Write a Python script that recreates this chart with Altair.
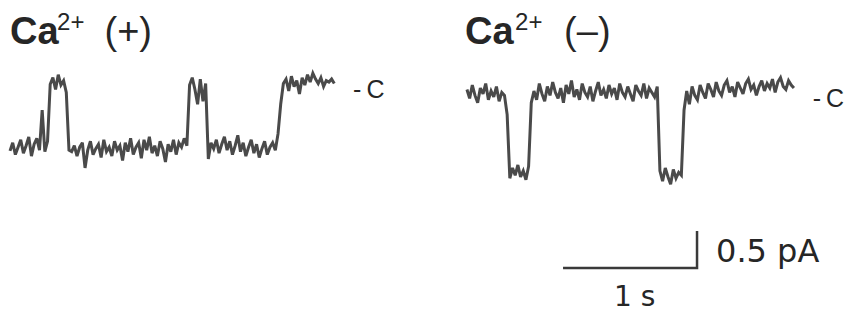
import altair as alt
import pandas as pd

# ---- recorded traces (current in pA, relative to closed level of left trace) ----
DT = 0.02            # sample interval, s
LEFT_T0 = 0.015      # s
RIGHT_T0 = 3.425     # s

left_current = [
    -0.85, -0.74, -0.90, -0.80, -0.70, -0.88, -0.78, -0.66, -0.92, -0.76, -0.68, -0.84,
    -0.30,
    -0.86, -0.72,
    0.05, 0.14, -0.02, 0.18, 0.04, 0.10, -0.06,
    -0.84,
    -0.86, -0.78, -0.92, -0.80, -0.74, -1.08, -0.84, -0.72, -0.90, -0.82, -0.76, -0.94,
    -0.70, -0.86, -0.80, -0.92, -0.72, -0.84, -0.78, -0.98, -0.74, -0.86, -0.68, -0.90,
    -0.80, -0.74, -0.95, -0.70, -0.84, -0.66, -0.88, -0.78, -0.92, -0.72, -0.82, -1.00,
    -0.76, -0.86, -0.70, -0.90, -0.74, -0.80, -0.68, -0.78,
    0.04, 0.14, -0.02, -0.22, 0.12, -0.18, 0.06,
    -0.96, -0.74, -0.82, -0.70, -0.88, -0.76, -0.66, -0.84, -0.72, -0.90, -0.78, -0.64,
    -0.86, -0.74, -0.92, -0.80, -0.70, -0.88, -0.76, -0.94, -0.82, -0.72, -0.90, -0.80,
    -0.74, -0.84,
    -0.62, -0.22,
    0.06, 0.12, -0.04, 0.16, 0.02, 0.10, -0.08, 0.14, 0.04, 0.18, 0.08, 0.20, 0.12, 0.06,
    0.14, 0.02, 0.10, 0.08, 0.12, 0.06,
]

right_current = [
    -0.02, -0.14, 0.04, -0.10, -0.20, 0.00, -0.08, 0.06, -0.16, -0.04, -0.12, 0.02, -0.18,
    -0.06, -0.10,
    -0.36,
    -1.22, -1.08, -1.18, -1.04, -1.20, -1.12, -1.24, -1.06,
    -0.20,
    -0.04, -0.16, 0.06, -0.08, -0.18, 0.02, -0.10, 0.08, -0.06, -0.14, 0.00, -0.20, 0.04,
    -0.08, 0.10, -0.12, -0.02, -0.16, 0.06, -0.06, -0.12, 0.02, -0.18, -0.04, 0.08, -0.10,
    -0.02, -0.14, 0.04, -0.08, 0.00, -0.16, 0.06, -0.06, -0.12, 0.02, -0.08, -0.18, 0.04,
    -0.04, -0.10, 0.06, -0.14, 0.00, -0.06, -0.12, 0.02,
    -1.12, -1.26, -1.08, -1.20, -1.30, -1.10, -1.22, -1.14, -1.18,
    -0.30,
    -0.04, -0.22, 0.02, -0.10, -0.16, 0.04, -0.06, -0.14, 0.06, -0.02, -0.12, 0.08, -0.04,
    -0.10, 0.04, 0.10, -0.06, 0.02, -0.12, 0.08, 0.00, -0.08, 0.06, 0.12, -0.02, 0.04,
    -0.10, 0.02, 0.10, -0.04, 0.06, 0.00, 0.12, -0.06, 0.08, 0.14, 0.02, -0.02, 0.10,
    0.04, 0.00,
]

# ---- scale bar (1 s, 0.5 pA) ----
scalebar_t = [4.142, 5.142, 5.142]
scalebar_i = [-2.432, -2.432, -1.932]

# ---- annotations ----
title_text = ["Ca", "Ca"]
title_t = [0.015, 3.410]
title_i = [0.595, 0.595]

sup_text = ["2+", "2+"]
sup_t = [0.366, 3.784]
sup_i = [0.784, 0.784]

sign_text = ["(+)", "(\u2013)"]
sign_t = [0.72, 4.15]
sign_i = [0.595, 0.595]

closed_text = ["-\u2009C", "-\u2009C"]
closed_t = [2.575, 6.005]
closed_i = [-0.135, -0.257]

bar_text = ["0.5 pA", "1 s"]
bar_t = [5.284, 4.522]
bar_i = [-2.351, -2.946]
bar_size = [32, 28]

X_DOMAIN = [0, 6.2537]
Y_DOMAIN = [-3.0405, 1.0811]

rows = []
for k, v in enumerate(left_current):
    rows.append({"t": LEFT_T0 + k * DT, "i": v, "trace": "Ca(+)"})
for k, v in enumerate(right_current):
    rows.append({"t": RIGHT_T0 + k * DT, "i": v, "trace": "Ca(-)"})
traces = pd.DataFrame(rows)

xs = alt.Scale(domain=X_DOMAIN, nice=False, zero=False)
ys = alt.Scale(domain=Y_DOMAIN, nice=False, zero=False)
X = lambda: alt.X("t:Q", scale=xs, axis=None)
Y = lambda: alt.Y("i:Q", scale=ys, axis=None)

trace_layer = alt.Chart(traces).mark_line(
    color="#4a4a4a", strokeWidth=3, strokeJoin="miter", strokeMiterLimit=3
).encode(x=X(), y=Y(), detail="trace:N", order="t:Q")

sb = pd.DataFrame({"t": scalebar_t, "i": scalebar_i, "o": [0, 1, 2]})
sb_layer = alt.Chart(sb).mark_line(color="#3a3a3a", strokeWidth=2.5).encode(
    x=X(), y=Y(), order="o:Q"
)

def text_layer(texts, ts, iis, **kw):
    df = pd.DataFrame({"label": texts, "t": ts, "i": iis})
    return alt.Chart(df).mark_text(align="left", baseline="alphabetic", color="#262626", **kw).encode(
        x=X(), y=Y(), text="label:N"
    )

ca_layer = text_layer(title_text, title_t, title_i, font="Liberation Sans", fontSize=38, fontWeight="bold")
sup_layer = text_layer(sup_text, sup_t, sup_i, font="Liberation Sans", fontSize=24)
sign_layer = text_layer(sign_text, sign_t, sign_i, font="Liberation Sans", fontSize=38)
closed_layer = text_layer(closed_text, closed_t, closed_i, font="Liberation Sans", fontSize=25)

bar_df = pd.DataFrame({"label": bar_text, "t": bar_t, "i": bar_i, "s": bar_size})
bar_layer = alt.Chart(bar_df).mark_text(
    align="left", baseline="alphabetic", color="#262626", font="DejaVu Sans"
).encode(x=X(), y=Y(), text="label:N", size=alt.Size("s:Q", scale=None, legend=None))

chart = alt.layer(
    trace_layer, sb_layer, ca_layer, sup_layer, sign_layer, closed_layer, bar_layer
).properties(
    width=838, height=305, padding=0, background="white",
    autosize=alt.AutoSizeParams(type="none")
).configure_view(stroke=None, strokeWidth=0)

chart.save("out.html", embed_options={"renderer": "svg", "actions": False})
